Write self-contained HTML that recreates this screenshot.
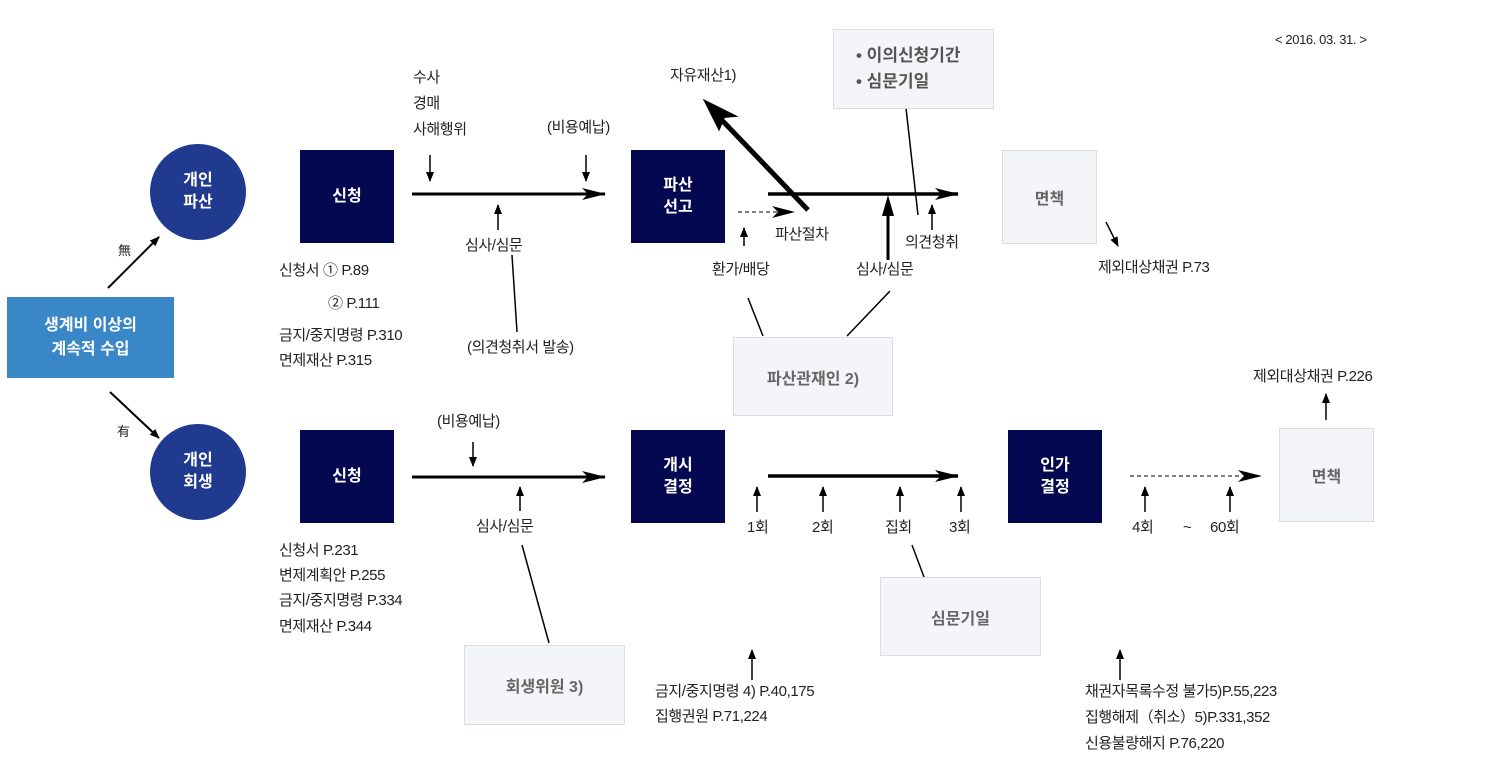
<!DOCTYPE html>
<html><head><meta charset="utf-8"><style>
body{margin:0;width:1488px;height:781px;background:#fff;position:relative;overflow:hidden;font-family:"Liberation Sans","Noto Sans CJK KR",sans-serif;color:#222}
.t{position:absolute;font-size:15px;line-height:20px;white-space:nowrap;letter-spacing:-0.4px}
.c{position:absolute;width:96px;height:96px;border-radius:50%;background:#1f3a8f;color:#fff;font-weight:bold;font-size:16px;display:flex;align-items:center;justify-content:center;text-align:center;line-height:22px}
.d{position:absolute;width:94px;height:93px;background:#040850;color:#fff;font-weight:bold;font-size:16px;display:flex;align-items:center;justify-content:center;text-align:center;line-height:22px}
.g{position:absolute;background:#f4f5f8;border:1px solid #dcdde2;color:#666;font-weight:bold;font-size:16px;display:flex;align-items:center;justify-content:center;text-align:center;box-sizing:border-box}
svg{position:absolute;left:0;top:0}
</style></head><body>
<svg width="1488" height="781">
<defs>
<marker id="a" markerWidth="10" markerHeight="8" refX="9" refY="4" orient="auto" markerUnits="userSpaceOnUse"><path d="M0,0 L10,4 L0,8 z" fill="#000"/></marker>
<marker id="b" markerWidth="24" markerHeight="12" refX="23" refY="6" orient="auto" markerUnits="userSpaceOnUse"><path d="M0,0 L24,6 L0,12 L6,6 z" fill="#000"/></marker>
</defs>
<g stroke="#000" fill="none">
<line x1="108" y1="288" x2="159" y2="237" stroke-width="2" marker-end="url(#a)"/>
<line x1="110" y1="392" x2="159" y2="438" stroke-width="2" marker-end="url(#a)"/>
<line x1="430" y1="155" x2="430" y2="181" stroke-width="1.5" marker-end="url(#a)"/>
<line x1="586" y1="155" x2="586" y2="181" stroke-width="1.5" marker-end="url(#a)"/>
<line x1="412" y1="194" x2="605" y2="194" stroke-width="3" marker-end="url(#b)"/>
<line x1="498" y1="230" x2="498" y2="205" stroke-width="1.5" marker-end="url(#a)"/>
<line x1="512" y1="255" x2="517" y2="332" stroke-width="1.5"/>
<line x1="738" y1="212" x2="792" y2="212" stroke-width="1" stroke-dasharray="4,3"/>
<path d="M772,206 L795,212 L772,218 L778,212z" fill="#000" stroke="none"/>
<line x1="768" y1="194" x2="958" y2="194" stroke-width="3.5" marker-end="url(#b)"/>
<line x1="808" y1="210" x2="716" y2="114" stroke-width="5"/>
<path d="M705,101 L735,116 L724,117 L719,129 z" fill="#000" stroke="#000" stroke-width="2"/>
<line x1="744" y1="246" x2="744" y2="228" stroke-width="1.5" marker-end="url(#a)"/>
<line x1="888" y1="260" x2="888" y2="214" stroke-width="3"/>
<path d="M882,216 L888,195 L894,216z" fill="#000" stroke="none"/>
<line x1="932" y1="230" x2="932" y2="205" stroke-width="1.5" marker-end="url(#a)"/>
<line x1="906" y1="108" x2="918" y2="215" stroke-width="1.5"/>
<line x1="763" y1="336" x2="748" y2="298" stroke-width="1.5"/>
<line x1="847" y1="336" x2="890" y2="291" stroke-width="1.5"/>
<line x1="1106" y1="222" x2="1118" y2="246" stroke-width="1.5" marker-end="url(#a)"/>
<line x1="412" y1="477" x2="605" y2="477" stroke-width="3" marker-end="url(#b)"/>
<line x1="473" y1="442" x2="473" y2="466" stroke-width="1.5" marker-end="url(#a)"/>
<line x1="520" y1="511" x2="520" y2="487" stroke-width="1.5" marker-end="url(#a)"/>
<line x1="522" y1="545" x2="549" y2="643" stroke-width="1.5"/>
<line x1="768" y1="476" x2="958" y2="476" stroke-width="3.5" marker-end="url(#b)"/>
<line x1="757" y1="512" x2="757" y2="487" stroke-width="1.5" marker-end="url(#a)"/>
<line x1="823" y1="512" x2="823" y2="487" stroke-width="1.5" marker-end="url(#a)"/>
<line x1="900" y1="512" x2="900" y2="487" stroke-width="1.5" marker-end="url(#a)"/>
<line x1="961" y1="512" x2="961" y2="487" stroke-width="1.5" marker-end="url(#a)"/>
<line x1="912" y1="545" x2="924" y2="577" stroke-width="1.5"/>
<line x1="1130" y1="476" x2="1242" y2="476" stroke-width="1" stroke-dasharray="4,3"/>
<path d="M1238,470 L1262,476 L1238,482 L1244,476z" fill="#000" stroke="none"/>
<line x1="1145" y1="512" x2="1145" y2="487" stroke-width="1.5" marker-end="url(#a)"/>
<line x1="1230" y1="512" x2="1230" y2="487" stroke-width="1.5" marker-end="url(#a)"/>
<line x1="1326" y1="420" x2="1326" y2="394" stroke-width="1.5" marker-end="url(#a)"/>
<line x1="752" y1="680" x2="752" y2="650" stroke-width="1.5" marker-end="url(#a)"/>
<line x1="1120" y1="680" x2="1120" y2="650" stroke-width="1.5" marker-end="url(#a)"/>
</g>
</svg>

<div class="c" style="left:150px;top:144px">개인<br>파산</div>
<div class="c" style="left:150px;top:424px">개인<br>회생</div>
<div style="position:absolute;left:7px;top:297px;width:167px;height:81px;background:#3a87c8;color:#fff;font-weight:bold;font-size:16px;display:flex;align-items:center;justify-content:center;text-align:center;line-height:24px">생계비 이상의<br>계속적 수입</div>
<div class="d" style="left:300px;top:150px">신청</div>
<div class="d" style="left:631px;top:150px">파산<br>선고</div>
<div class="d" style="left:300px;top:430px">신청</div>
<div class="d" style="left:631px;top:430px">개시<br>결정</div>
<div class="d" style="left:1008px;top:430px">인가<br>결정</div>
<div class="g" style="left:833px;top:29px;width:161px;height:80px;font-size:17px;line-height:26px;color:#555;text-align:left;justify-content:flex-start;padding-left:22px">• 이의신청기간<br>• 심문기일</div>
<div class="g" style="left:1002px;top:150px;width:95px;height:94px">면책</div>
<div class="g" style="left:733px;top:337px;width:160px;height:79px">파산관재인 2)</div>
<div class="g" style="left:880px;top:577px;width:161px;height:79px">심문기일</div>
<div class="g" style="left:464px;top:645px;width:161px;height:80px">회생위원 3)</div>
<div class="g" style="left:1279px;top:428px;width:95px;height:94px">면책</div>

<div class="t" style="left:1275px;top:30px;font-size:13px">&lt; 2016. 03. 31. &gt;</div>
<div class="t" style="left:413px;top:65px;line-height:26px">수사<br>경매<br>사해행위</div>
<div class="t" style="left:547px;top:118px">(비용예납)</div>
<div class="t" style="left:465px;top:236px">심사/심문</div>
<div class="t" style="left:279px;top:261px">신청서 ① P.89</div>
<div class="t" style="left:328px;top:294px">② P.111</div>
<div class="t" style="left:279px;top:326px">금지/중지명령 P.310</div>
<div class="t" style="left:279px;top:351px">면제재산 P.315</div>
<div class="t" style="left:467px;top:338px">(의견청취서 발송)</div>
<div class="t" style="left:670px;top:66px">자유재산1)</div>
<div class="t" style="left:775px;top:225px">파산절차</div>
<div class="t" style="left:712px;top:260px">환가/배당</div>
<div class="t" style="left:856px;top:260px">심사/심문</div>
<div class="t" style="left:905px;top:233px">의견청취</div>
<div class="t" style="left:1098px;top:258px">제외대상채권 P.73</div>
<div class="t" style="left:118px;top:241px;font-size:13px">無</div>
<div class="t" style="left:117px;top:422px;font-size:13px">有</div>
<div class="t" style="left:437px;top:412px">(비용예납)</div>
<div class="t" style="left:476px;top:517px">심사/심문</div>
<div class="t" style="left:279px;top:541px">신청서 P.231</div>
<div class="t" style="left:279px;top:566px">변제계획안 P.255</div>
<div class="t" style="left:279px;top:591px">금지/중지명령 P.334</div>
<div class="t" style="left:279px;top:617px">면제재산 P.344</div>
<div class="t" style="left:747px;top:518px">1회</div>
<div class="t" style="left:812px;top:518px">2회</div>
<div class="t" style="left:885px;top:518px">집회</div>
<div class="t" style="left:949px;top:518px">3회</div>
<div class="t" style="left:1132px;top:518px">4회</div>
<div class="t" style="left:1183px;top:518px">~</div>
<div class="t" style="left:1210px;top:518px">60회</div>
<div class="t" style="left:1253px;top:367px">제외대상채권 P.226</div>
<div class="t" style="left:655px;top:682px">금지/중지명령 4) P.40,175</div>
<div class="t" style="left:655px;top:707px">집행권원 P.71,224</div>
<div class="t" style="left:1085px;top:682px">채권자목록수정 불가5)P.55,223</div>
<div class="t" style="left:1085px;top:708px">집행해제（취소）5)P.331,352</div>
<div class="t" style="left:1085px;top:734px">신용불량해지 P.76,220</div>
</body></html>
